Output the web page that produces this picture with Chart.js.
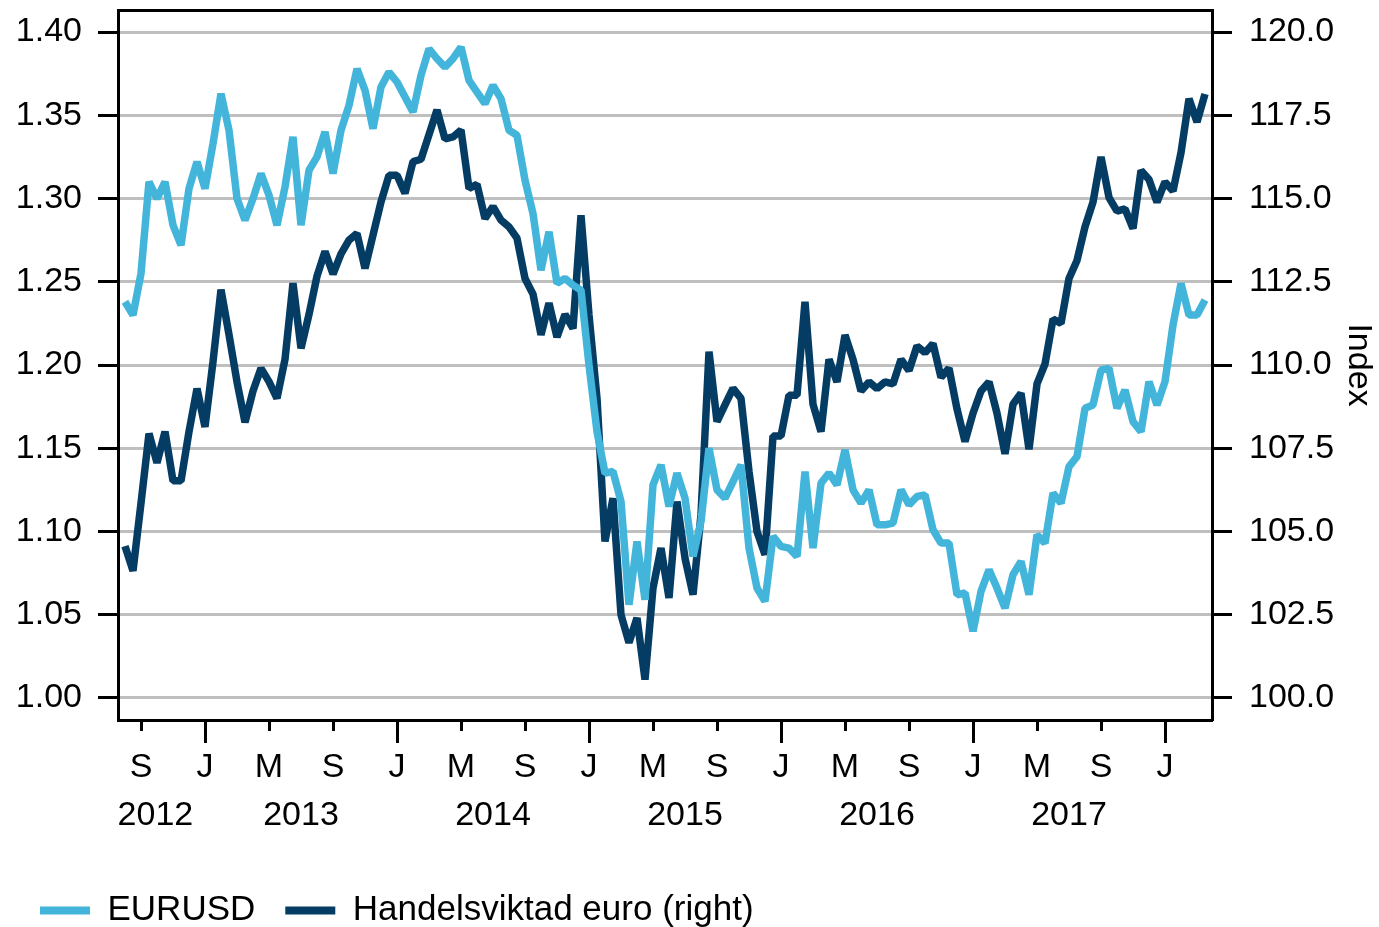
<!DOCTYPE html>
<html>
<head>
<meta charset="utf-8">
<title>EURUSD och handelsviktad euro</title>
<script src="https://cdn.jsdelivr.net/npm/chart.js@4.4.1/dist/chart.umd.min.js"></script>
<style>
  html, body { margin: 0; padding: 0; background: #fff; }
  #wrap { width: 1379px; height: 927px; }
</style>
</head>
<body>
<div id="wrap"><canvas id="fxChart" width="1379" height="927"></canvas></div>
<script>
// Tid i månader från jan 2012 (0 = jan 2012), ett värde per halvmånad
const startMonth = 7;
const stepMonth = 0.5;

// EURUSD (vänster axel)
const eurusd = [
    1.238, 1.230, 1.255, 1.310, 1.300, 1.310, 1.284, 1.272, 1.306, 1.322,
    1.306, 1.333, 1.363, 1.341, 1.300, 1.287, 1.300, 1.315, 1.302, 1.284,
    1.307, 1.337, 1.284, 1.317, 1.325, 1.340, 1.315, 1.341, 1.356, 1.378,
    1.365, 1.342, 1.367, 1.376, 1.370, 1.361, 1.352, 1.374, 1.390, 1.384,
    1.379, 1.384, 1.391, 1.371, 1.364, 1.357, 1.368, 1.360, 1.341, 1.338,
    1.311, 1.291, 1.257, 1.280, 1.249, 1.252, 1.248, 1.245, 1.200, 1.160,
    1.135, 1.136, 1.118, 1.056, 1.094, 1.059, 1.128, 1.140, 1.115, 1.135,
    1.120, 1.085, 1.106, 1.150, 1.125, 1.120, 1.130, 1.140, 1.090, 1.066,
    1.058, 1.097, 1.091, 1.090, 1.085, 1.136, 1.090, 1.129, 1.135, 1.128,
    1.149, 1.125, 1.117, 1.125, 1.104, 1.104, 1.105, 1.125, 1.116, 1.121,
    1.122, 1.101, 1.093, 1.093, 1.062, 1.063, 1.040, 1.064, 1.077, 1.066,
    1.054, 1.074, 1.082, 1.062, 1.098, 1.093, 1.123, 1.117, 1.139, 1.145,
    1.174, 1.176, 1.197, 1.198, 1.174, 1.185, 1.166, 1.160, 1.190, 1.176,
    1.190, 1.224, 1.249, 1.230, 1.230, 1.239
];

// Handelsviktad euro, index (höger axel)
const handelsviktad = [
    104.56, 103.82, 105.85, 107.94, 107.06, 108.00, 106.52, 106.52, 108.00, 109.29,
    108.14, 110.10, 112.26, 110.91, 109.49, 108.28, 109.22, 109.90, 109.50, 109.00,
    110.17, 112.46, 110.50, 111.52, 112.67, 113.41, 112.73, 113.34, 113.75, 113.95,
    112.90, 113.90, 114.90, 115.70, 115.70, 115.16, 116.11, 116.18, 116.92, 117.66,
    116.79, 116.85, 117.06, 115.30, 115.43, 114.40, 114.76, 114.35, 114.15, 113.81,
    112.60, 112.13, 110.91, 111.86, 110.84, 111.52, 111.10, 114.50, 111.50, 109.00,
    104.70, 106.00, 102.50, 101.66, 102.40, 100.55, 103.30, 104.50, 103.00, 105.90,
    104.20, 103.10, 105.50, 110.40, 108.30, 108.80, 109.30, 109.00, 106.80, 105.00,
    104.30, 107.87, 107.87, 109.09, 109.09, 111.90, 108.82, 108.00, 110.17, 109.49,
    110.90, 110.17, 109.22, 109.49, 109.29, 109.49, 109.43, 110.17, 109.83, 110.57,
    110.37, 110.64, 109.63, 109.90, 108.68, 107.70, 108.55, 109.22, 109.49, 108.55,
    107.33, 108.82, 109.15, 107.47, 109.43, 110.03, 111.38, 111.25, 112.60, 113.14,
    114.15, 114.89, 116.25, 115.03, 114.62, 114.69, 114.10, 115.84, 115.57, 114.89,
    115.50, 115.23, 116.38, 118.00, 117.30, 118.14
];

const leftTicks = [1.00, 1.05, 1.10, 1.15, 1.20, 1.25, 1.30, 1.35, 1.40];
const rightTicks = [100, 102.5, 105, 107.5, 110, 112.5, 115, 117.5, 120];
const monthTicks = [8, 12, 16, 20, 24, 28, 32, 36, 40, 44, 48, 52, 56, 60, 64, 68, 72];
const monthLabels = ['S', 'J', 'M', 'S', 'J', 'M', 'S', 'J', 'M', 'S', 'J', 'M', 'S', 'J', 'M', 'S', 'J'];
const janTicks = [12, 24, 36, 48, 60, 72];
const yearTicks = [8.9, 18, 30, 42, 54, 66];
const yearLabels = ['2012', '2013', '2014', '2015', '2016', '2017'];

const xMin = 6.5625;
const xMax = 74.9375;

const toPoints = arr => arr.map((v, i) => ({ x: startMonth + i * stepMonth, y: v }));
const setTicks = values => scale => { scale.ticks = values.map(v => ({ value: v })); };
const noPad = s => { s.paddingTop = 0; s.paddingBottom = 0; s.paddingLeft = 0; s.paddingRight = 0; };

Chart.defaults.font.family = '"Liberation Sans", Arial, Helvetica, sans-serif';
Chart.defaults.color = '#000';

const ctx = document.getElementById('fxChart').getContext('2d');

new Chart(ctx, {
    type: 'line',
    data: {
        datasets: [
            {
                label: 'EURUSD',
                data: toPoints(eurusd),
                yAxisID: 'y',
                borderColor: '#43B5DA',
                backgroundColor: '#43B5DA',
                borderWidth: 7.5,
                borderJoinStyle: 'bevel',
                pointRadius: 0,
                tension: 0,
                fill: false
            },
            {
                label: 'Handelsviktad euro (right)',
                data: toPoints(handelsviktad),
                yAxisID: 'y1',
                borderColor: '#053C64',
                backgroundColor: '#053C64',
                borderWidth: 7.5,
                borderJoinStyle: 'bevel',
                pointRadius: 0,
                tension: 0,
                fill: false
            }
        ]
    },
    options: {
        responsive: false,
        animation: false,
        layout: { padding: { left: 10, right: 0, top: 10, bottom: 0 } },
        scales: {
            x: {
                type: 'linear',
                position: 'bottom',
                weight: 1,
                min: xMin,
                max: xMax,
                afterBuildTicks: setTicks(monthTicks),
                afterFit: s => { noPad(s); s.height = 70; },
                grid: { drawOnChartArea: false, drawTicks: true, tickLength: 11, tickWidth: 3, tickColor: '#000' },
                border: { display: true, color: '#000', width: 3 },
                ticks: {
                    autoSkip: false,
                    maxRotation: 0,
                    padding: 16,
                    font: { size: 34 },
                    callback: (v, i) => monthLabels[i]
                }
            },
            xJan: {
                type: 'linear',
                position: 'bottom',
                weight: 0,
                min: xMin,
                max: xMax,
                afterBuildTicks: setTicks(janTicks),
                afterFit: s => { noPad(s); s.height = 0; },
                grid: { drawOnChartArea: false, drawTicks: true, tickLength: 23, tickWidth: 3, tickColor: '#000' },
                border: { display: false },
                ticks: { display: false }
            },
            xYear: {
                type: 'linear',
                position: 'bottom',
                weight: 2,
                min: xMin,
                max: xMax,
                afterBuildTicks: setTicks(yearTicks),
                afterFit: s => { noPad(s); s.height = 73; },
                grid: { display: true, drawOnChartArea: false, drawTicks: false },
                border: { display: false },
                ticks: {
                    autoSkip: false,
                    maxRotation: 0,
                    padding: 5,
                    font: { size: 34 },
                    callback: (v, i) => yearLabels[i]
                }
            },
            xTop: {
                type: 'linear',
                position: 'top',
                min: xMin,
                max: xMax,
                afterFit: s => { noPad(s); s.height = 0; },
                grid: { drawOnChartArea: false, drawTicks: false },
                border: { display: true, color: '#000', width: 3 },
                ticks: { display: false }
            },
            y: {
                type: 'linear',
                position: 'left',
                min: 0.98673,
                max: 1.41327,
                afterBuildTicks: setTicks(leftTicks),
                afterFit: s => { noPad(s); s.width = 108; },
                grid: { color: '#BFBFBF', lineWidth: 3, drawTicks: true, tickLength: 20, tickWidth: 3, tickColor: '#000' },
                border: { display: true, color: '#000', width: 3 },
                ticks: {
                    padding: 16,
                    font: { size: 34 },
                    callback: v => v.toFixed(2)
                }
            },
            y1: {
                type: 'linear',
                position: 'right',
                min: 99.336,
                max: 120.664,
                afterBuildTicks: setTicks(rightTicks),
                afterFit: s => { noPad(s); s.width = 167; },
                grid: { drawOnChartArea: false, drawTicks: true, tickLength: 20, tickWidth: 3, tickColor: '#000' },
                border: { display: true, color: '#000', width: 3 },
                title: { display: true, text: 'Index', font: { size: 34 }, padding: 0 },
                ticks: {
                    padding: 17,
                    font: { size: 34 },
                    callback: v => v.toFixed(1)
                }
            }
        },
        plugins: {
            tooltip: { enabled: false },
            legend: {
                position: 'bottom',
                align: 'start',
                maxHeight: 64,
                labels: {
                    boxWidth: 50,
                    boxHeight: 8,
                    padding: 30,
                    font: { size: 35 },
                    generateLabels: chart => Chart.defaults.plugins.legend.labels.generateLabels(chart)
                        .map(item => ({ ...item, lineWidth: 0 }))
                }
            }
        }
    }
});
</script>
</body>
</html>
